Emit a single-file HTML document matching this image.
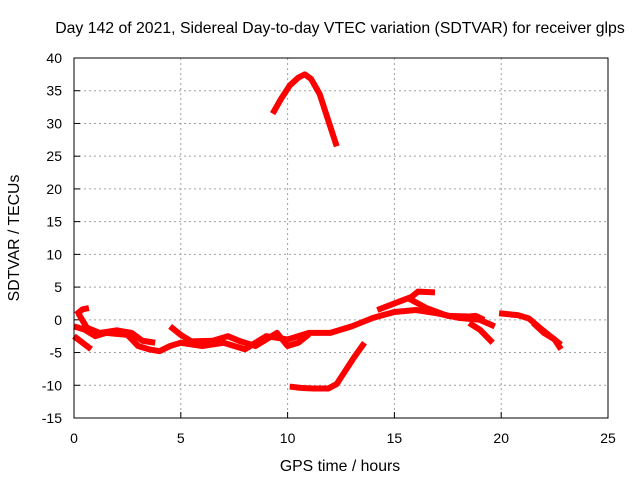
<!DOCTYPE html>
<html><head><meta charset="utf-8"><style>
body{margin:0;background:#fff;font-family:"Liberation Sans",sans-serif}
svg text{font-family:"Liberation Sans",sans-serif;font-size:14px;fill:#000}
svg text.big{font-size:15.8px}
</style></head><body>
<svg id="c" width="640" height="480">
<rect width="640" height="480" fill="#fff"/>
<text class="big" x="340" y="33" text-anchor="middle">Day 142 of 2021, Sidereal Day-to-day VTEC variation (SDTVAR) for receiver glps</text>
<text class="big" x="340" y="471" text-anchor="middle">GPS time / hours</text>
<text class="big" transform="translate(19,238) rotate(-90)" text-anchor="middle">SDTVAR / TECUs</text>
<g id="grid"></g><g id="series"></g>
<rect x="74" y="58" width="534" height="360" fill="none" stroke="#000"/>
</svg>
<script>
const xTicks=[0,5,10,15,20,25];
const yTicks=[-15,-10,-5,0,5,10,15,20,25,30,35,40];
const seriesArc=[[9.3,31.5],[9.7,33.8],[10.1,35.8],[10.5,37],[10.8,37.5],[11.1,36.8],[11.5,34.5],[11.9,30.5],[12.3,26.5]];
const seriesLow=[[10.1,-10.2],[10.6,-10.4],[11.2,-10.5],[11.9,-10.5],[12.3,-9.8],[12.7,-7.8],[13.1,-5.8],[13.6,-3.5]];
const seriesMain=[[0,-1],[0.5,-1.5],[1,-2.5],[1.5,-2],[2.5,-2.3],[3,-4],[3.5,-4.5],[4,-4.8],[4.5,-4],[5,-3.5],[6,-4],[7,-3.5],[8,-4.5],[8.5,-3.5],[9,-2.5],[10,-3],[11,-2],[12,-2],[13,-1],[14,0.3],[15,1.2],[16,1.5],[17,1],[18,0.3],[19,0],[19.7,-1]];
const seriesB=[[0,-2.5],[0.8,-4.5]];
const seriesC=[[0.1,0.8],[0.4,1.6],[0.7,1.8]];
const seriesD=[[0.2,1],[0.6,-1.2],[1.2,-2],[2,-1.6],[2.7,-2],[3.2,-3.2],[3.8,-3.5]];
const seriesE=[[4.5,-1],[5,-2.3],[5.5,-3.3],[6.5,-3.2],[7.2,-2.5],[7.8,-3.3],[8.5,-4],[9,-3],[9.5,-2],[10,-4],[10.5,-3.5],[11,-2.2]];
const seriesF=[[14.2,1.5],[15,2.5],[15.8,3.5],[16.1,4.3],[16.9,4.2]];
const seriesG=[[15.7,3.2],[16.5,1.8],[17.5,0.6],[18.5,0.5],[18.8,0.6],[19.2,0]];
const seriesH=[[18.5,-0.5],[19,-1.5],[19.6,-3.5]];
const seriesI=[[19.9,1],[20.8,0.7],[21.3,0.2],[21.8,-1.2],[22.3,-2.5],[22.8,-3.8]];
const seriesJ=[[21.5,-0.5],[22,-2],[22.5,-3],[22.8,-4.5]];
const X=v=>74+v*534/25, Y=v=>58+(40-v)*360/55;
const ns="http://www.w3.org/2000/svg", svg=document.getElementById('c');
const grid=document.getElementById('grid'), sg=document.getElementById('series');
function mk(t,a,p){const e=document.createElementNS(ns,t);for(const k in a)e.setAttribute(k,a[k]);p.appendChild(e);return e;}
xTicks.forEach(t=>{
 if(t>0&&t<25){const l=mk('line',{x1:X(t),x2:X(t),y1:58,y2:418,stroke:'#a0a0a0','stroke-dasharray':'2,3'},grid);
 
 }
 mk('line',{x1:X(t),x2:X(t),y1:418,y2:412,stroke:'#000'},grid);
 const tx=mk('text',{x:X(t),y:443,'text-anchor':'middle'},grid);tx.textContent=t;
 
 
});
yTicks.forEach(t=>{
 if(t>-15&&t<40){const l=mk('line',{x1:74,x2:608,y1:Y(t),y2:Y(t),stroke:'#a0a0a0','stroke-dasharray':'2,3'},grid);
 
 }
 mk('line',{x1:74,x2:80,y1:Y(t),y2:Y(t),stroke:'#000'},grid);
 const tx=mk('text',{x:62,y:Y(t)+5,'text-anchor':'end'},grid);tx.textContent=t;
 
 
});
[seriesArc,seriesLow,seriesMain,seriesB,seriesC,seriesD,seriesE,seriesF,seriesG,seriesH,seriesI,seriesJ].forEach(s=>{
 const p=mk('polyline',{points:s.map(d=>X(d[0])+','+Y(d[1])).join(' '),fill:'none',stroke:'#ff0000','stroke-width':6,'stroke-linejoin':'round'},sg);
 
 
});
</script>
</body></html>
